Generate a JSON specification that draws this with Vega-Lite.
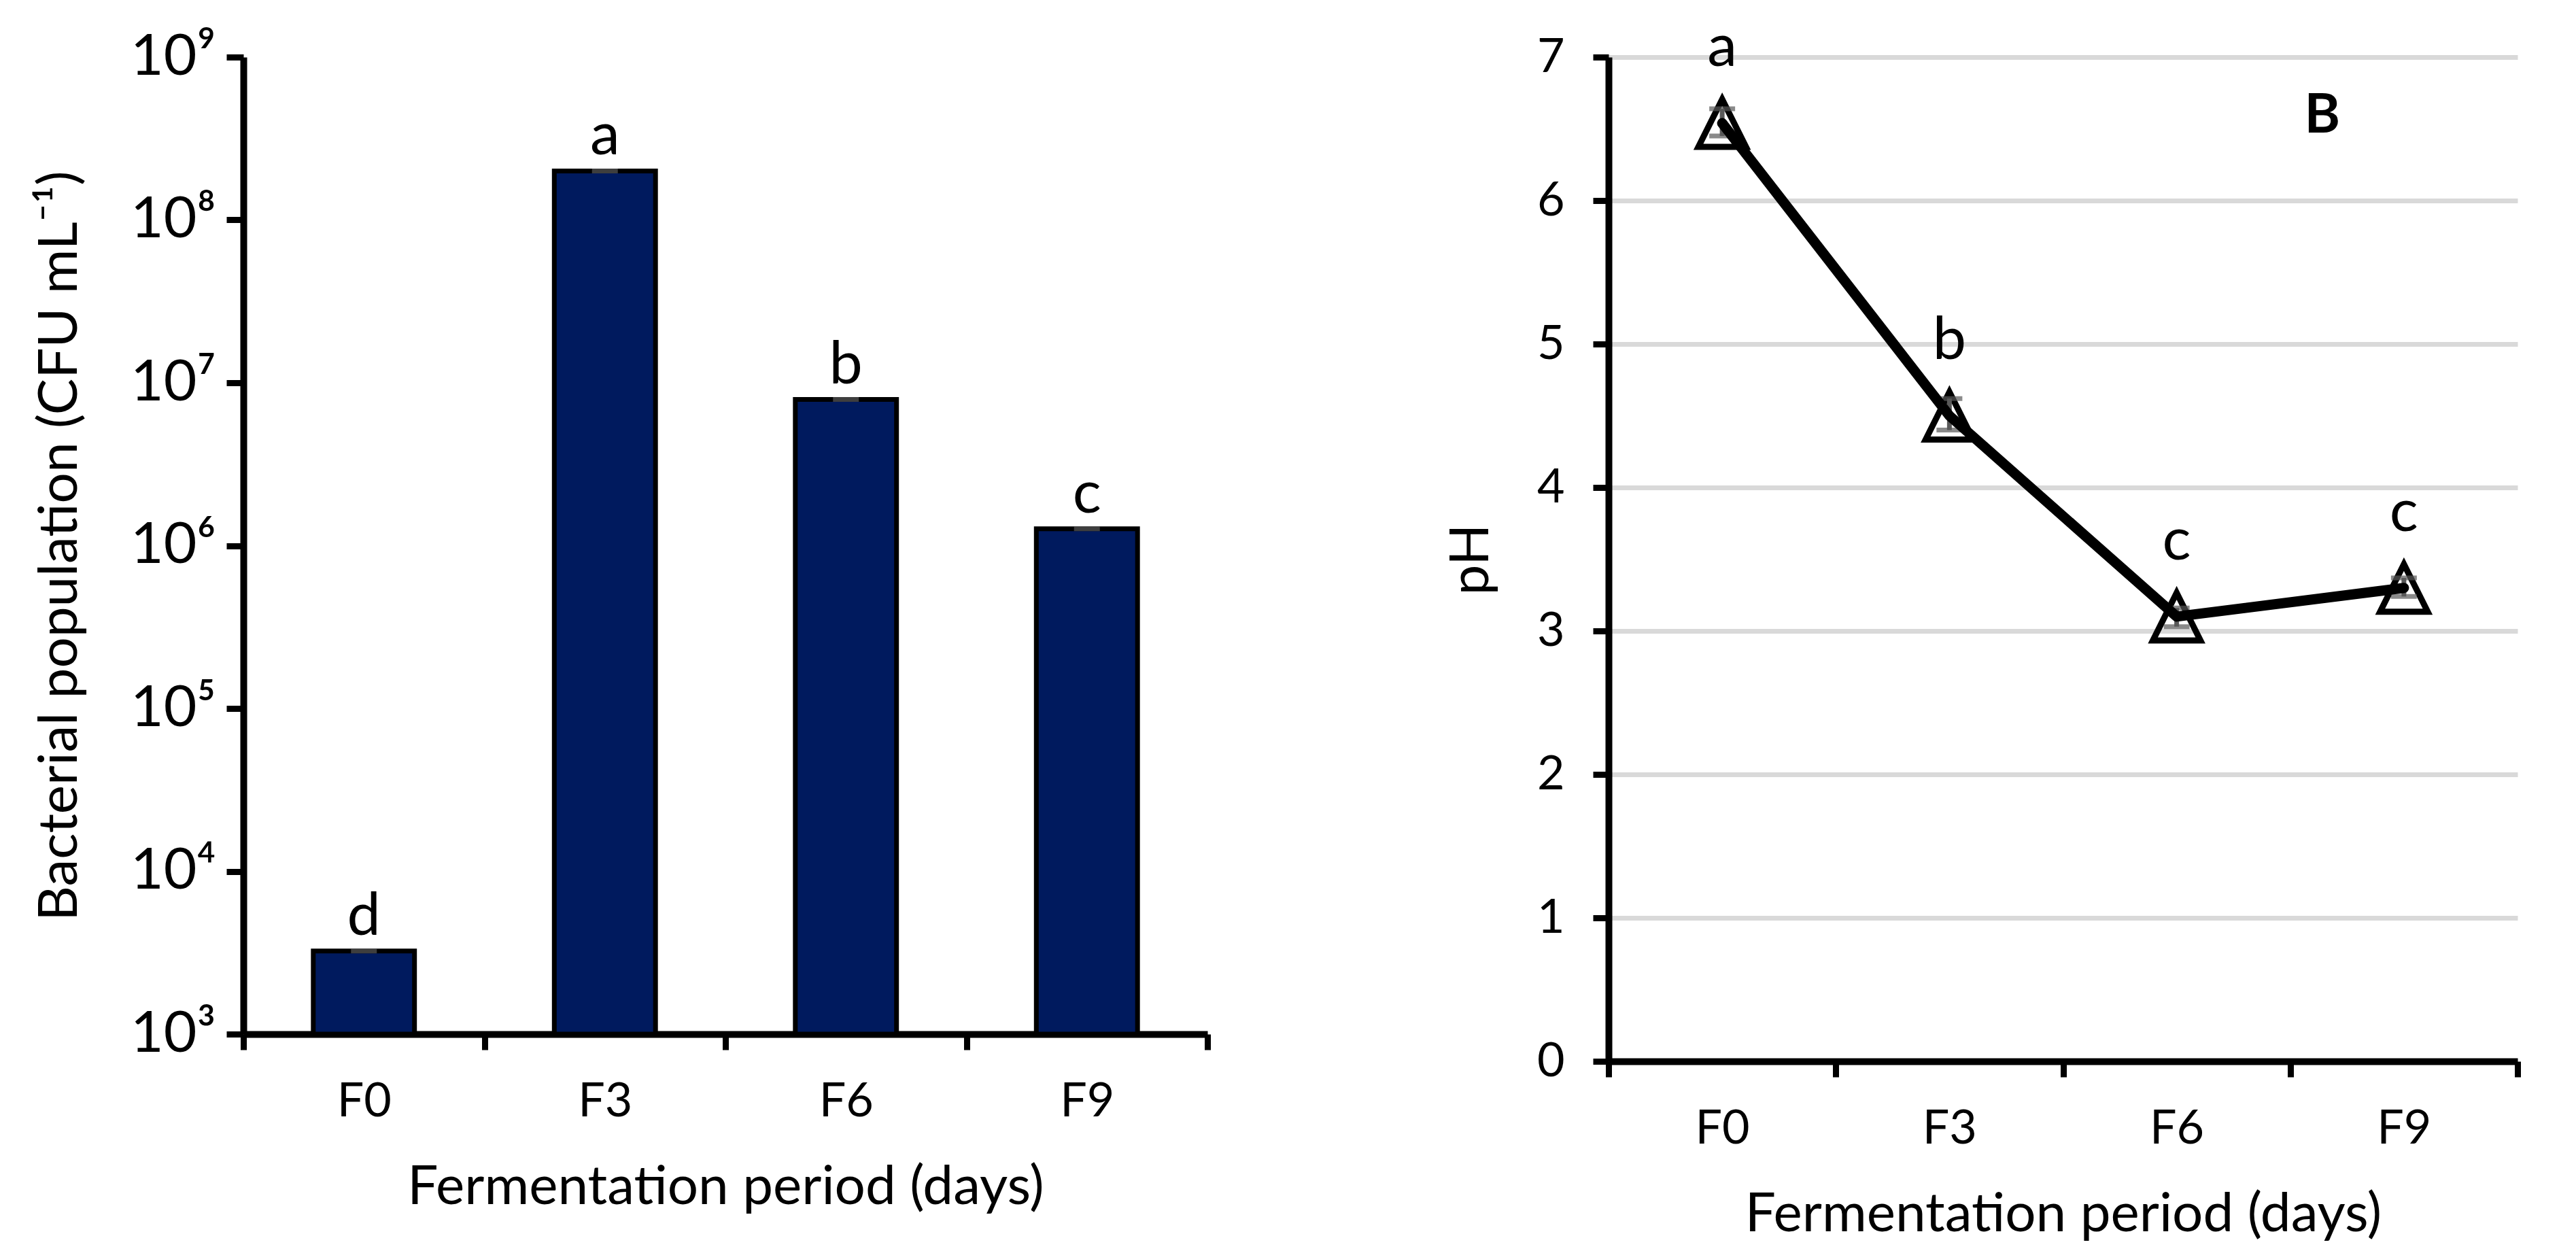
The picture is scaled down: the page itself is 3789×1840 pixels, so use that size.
{
  "$schema": "https://vega.github.io/schema/vega-lite/v6.json",
  "background": "white",
  "padding": {"left": 48, "top": 27, "right": 20, "bottom": 10},
  "spacing": 343,
  "config": {
    "font": "Lato",
    "view": {"stroke": null},
    "axis": {
      "domainColor": "black",
      "domainWidth": 10,
      "tickColor": "black",
      "tickWidth": 9,
      "tickSize": 23,
      "labelFont": "Lato, Noto Sans",
      "labelFontSize": 70,
      "labelColor": "black",
      "titleFont": "Lato",
      "titleFontSize": 80,
      "titleFontWeight": "normal",
      "titleColor": "black"
    }
  },
  "hconcat": [
    {
      "width": 1418,
      "height": 1437,
      "data": {
        "values": [
          {"period": "F0", "cfu": 3240, "group": "d"},
          {"period": "F3", "cfu": 200000000, "group": "a"},
          {"period": "F6", "cfu": 7900000, "group": "b"},
          {"period": "F9", "cfu": 1270000, "group": "c"}
        ]
      },
      "encoding": {
        "x": {
          "field": "period",
          "type": "nominal",
          "sort": null,
          "scale": {"type": "band", "paddingInner": 0, "paddingOuter": 0},
          "axis": {
            "title": "Fermentation period (days)",
            "labelAngle": 0,
            "tickBand": "extent",
            "grid": false,
            "labelPadding": 42,
            "titlePadding": 52
          }
        },
        "y": {
          "field": "cfu",
          "type": "quantitative",
          "scale": {"type": "log", "domain": [1000, 1000000000], "nice": false},
          "axis": {
            "title": "Bacterial population (CFU mL⁻¹)",
            "values": [1000, 10000, 100000, 1000000, 10000000, 100000000, 1000000000],
            "labelExpr": "datum.value >= 1e9 ? '10⁹' : datum.value >= 1e8 ? '10⁸' : datum.value >= 1e7 ? '10⁷' : datum.value >= 1e6 ? '10⁶' : datum.value >= 1e5 ? '10⁵' : datum.value >= 1e4 ? '10⁴' : '10³'",
            "labelFontSize": 84,
            "labelPadding": 16,
            "tickSize": 25,
            "grid": false,
            "titlePadding": 62
          }
        }
      },
      "layer": [
        {
          "mark": {"type": "bar", "width": {"band": 0.42}, "fill": "#001A5E", "stroke": "black", "strokeWidth": 7},
          "encoding": {"y2": {"datum": 1000}}
        },
        {
          "mark": {"type": "tick", "orient": "horizontal", "color": "#595959", "size": 38, "thickness": 7}
        },
        {
          "mark": {"type": "text", "baseline": "alphabetic", "dy": -24, "fontSize": 88, "color": "black"},
          "encoding": {"text": {"field": "group"}}
        },
        {
          "data": {"values": [{"label": "A"}]},
          "mark": {"type": "text", "fontWeight": "bold", "fontSize": 80, "baseline": "alphabetic", "dx": -98, "dy": 78, "color": "black"},
          "encoding": {
            "x": {"datum": "F9"},
            "y": {"datum": 1000000000},
            "text": {"field": "label"}
          }
        }
      ]
    },
    {
      "width": 1337,
      "height": 1477,
      "data": {
        "values": [
          {"period": "F0", "ph": 6.54, "lo": 6.45, "hi": 6.64, "group": "a"},
          {"period": "F3", "ph": 4.5, "lo": 4.4, "hi": 4.62, "group": "b"},
          {"period": "F6", "ph": 3.1, "lo": 3.03, "hi": 3.16, "group": "c"},
          {"period": "F9", "ph": 3.3, "lo": 3.24, "hi": 3.37, "group": "c"}
        ]
      },
      "encoding": {
        "x": {
          "field": "period",
          "type": "nominal",
          "sort": null,
          "scale": {"type": "band", "paddingInner": 0, "paddingOuter": 0},
          "axis": {
            "title": "Fermentation period (days)",
            "labelAngle": 0,
            "tickBand": "extent",
            "grid": false,
            "labelPadding": 42,
            "titlePadding": 52
          }
        }
      },
      "layer": [
        {
          "mark": {"type": "point", "shape": "M0,-1L1,1L-1,1Z", "filled": false, "stroke": "black", "strokeWidth": 9, "size": 4900, "opacity": 1},
          "encoding": {
            "y": {
              "field": "ph",
              "type": "quantitative",
              "scale": {"domain": [0, 7], "nice": false},
              "axis": {
                "title": "pH",
                "values": [0, 1, 2, 3, 4, 5, 6, 7],
                "format": "d",
                "grid": true,
                "gridColor": "#D9D9D9",
                "gridWidth": 7,
                "labelPadding": 42,
                "titlePadding": 55
              }
            }
          }
        },
        {
          "mark": {"type": "rule", "color": "#595959", "strokeWidth": 7},
          "encoding": {
            "y": {"field": "lo", "type": "quantitative"},
            "y2": {"field": "hi"}
          }
        },
        {
          "mark": {"type": "tick", "orient": "horizontal", "color": "#595959", "size": 38, "thickness": 7},
          "encoding": {"y": {"field": "lo", "type": "quantitative"}}
        },
        {
          "mark": {"type": "tick", "orient": "horizontal", "color": "#595959", "size": 38, "thickness": 7},
          "encoding": {"y": {"field": "hi", "type": "quantitative"}}
        },
        {
          "mark": {"type": "line", "color": "black", "strokeWidth": 15, "strokeCap": "round", "strokeJoin": "round"},
          "encoding": {"y": {"field": "ph", "type": "quantitative"}}
        },
        {
          "mark": {"type": "text", "baseline": "alphabetic", "dy": -84, "fontSize": 88, "color": "black"},
          "encoding": {
            "y": {"field": "ph", "type": "quantitative"},
            "text": {"field": "group"}
          }
        },
        {
          "data": {"values": [{"label": "B"}]},
          "mark": {"type": "text", "fontWeight": "bold", "fontSize": 80, "baseline": "alphabetic", "dx": -120, "dy": 111, "color": "black"},
          "encoding": {
            "x": {"datum": "F9"},
            "y": {"datum": 7},
            "text": {"field": "label"}
          }
        }
      ]
    }
  ]
}
